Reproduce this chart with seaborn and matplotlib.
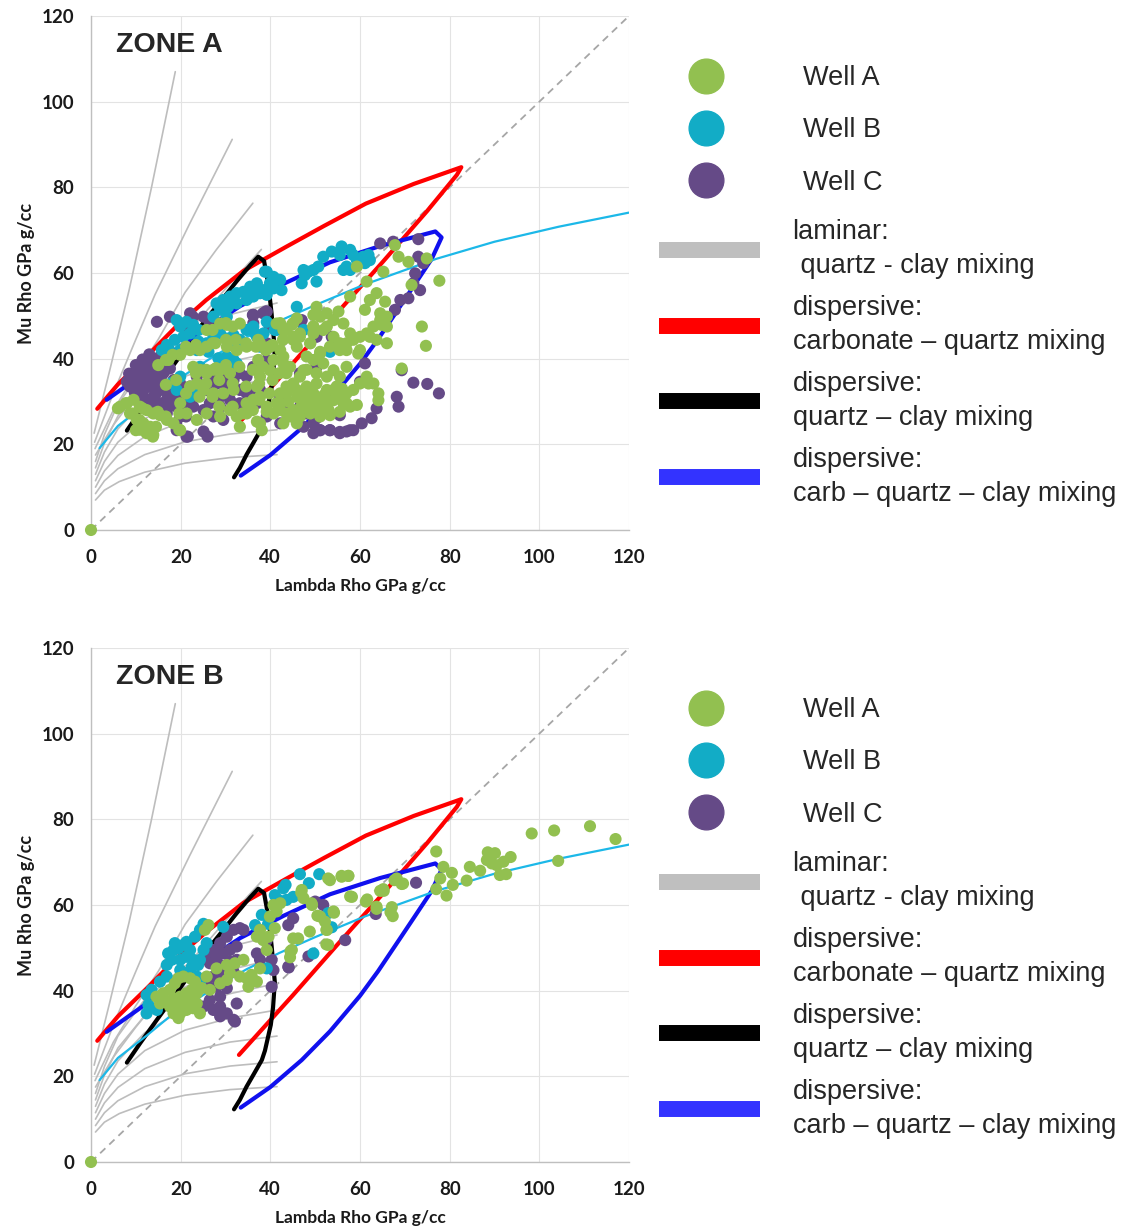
import pandas as pd
import seaborn as sns
import matplotlib.pyplot as plt
from matplotlib.lines import Line2D

# ---------------- data ----------------
ticks = [0, 20, 40, 60, 80, 100, 120]
wells = ['Well A', 'Well B', 'Well C']
well_colors = {'Well A': '#92C050', 'Well B': '#12ACC6', 'Well C': '#654A87'}

# model curves (lambda rho, mu rho) - identical on both panels
diagonal = [(0, 0), (120, 120)]
laminar_curves = [
    [(0.7, 22.6), (4, 36.5), (8.5, 56), (13.5, 80), (18.8, 107)],
    [(0.8, 20.5), (5, 32), (10, 44.5), (14.3, 55), (22, 71.5), (31.5, 91.2)],
    [(0.9, 19), (5, 28), (10, 36.5), (15, 44.5), (21, 55.5), (28, 65.5), (36.1, 76.3)],
    [(1, 17.5), (5, 24.5), (10, 31.5), (17, 40.5), (24, 49), (31, 57.5), (38, 65.5)],
    [(1, 16), (3, 22.3), (6, 29.4), (12, 38), (21, 45.8), (31, 50.3), (41.5, 53)],
    [(1, 14.5), (3, 20.3), (6, 26.6), (12, 34.2), (21, 40.9), (31, 44.9), (41.5, 47.5)],
    [(1, 13), (3, 18.2), (6, 23.6), (12, 30.2), (21, 35.9), (31, 39.3), (41.5, 41.7)],
    [(1, 11.5), (3, 16), (6, 20.5), (12, 26), (21, 30.8), (31, 33.6), (41.5, 35.5)],
    [(1, 10), (3, 13.8), (6, 17.4), (12, 21.8), (21, 25.6), (31, 28), (41.5, 29.4)],
    [(1, 8.5), (3, 11.5), (6, 14.3), (12, 17.6), (21, 20.6), (31, 22.4), (41.5, 23.4)],
    [(1, 7), (3, 9.3), (6.3, 11.3), (12, 13.5), (21, 15.6), (31, 16.9), (41.5, 17.6)],
]
carb_quartz = [(1.4, 28.3), (6, 34), (12.4, 40.5), (19, 47.5), (25.7, 53.7), (34, 60.5),
               (43.5, 66.1), (52, 71), (61.3, 76.2), (72, 80.8), (82.6, 84.7), (81.6, 82.9),
               (75, 74.5), (65, 62.5), (55, 50.8), (45, 38.9), (33, 25)]
quartz_clay = [(8, 23.2), (11, 27.8), (14.7, 33.2), (20, 40.8), (25, 48.3), (29, 53.5),
               (32.5, 58.1), (35.5, 61.8), (37.3, 63.8), (38.6, 62.8), (39.6, 57), (40.3, 50.3),
               (41, 42), (40.6, 36), (40.1, 32), (38.8, 26), (38.1, 23.8), (36.3, 20.5),
               (34.7, 17.6), (33.2, 14.5), (31.9, 12.3)]
carb_quartz_clay = [(3.5, 30.4), (12.4, 37), (22, 44.5), (33.3, 52.3), (43, 57.5), (53.3, 62.5),
                    (64.5, 66.3), (76.8, 69.7), (78.2, 68.3), (76, 63.3), (72, 57), (69, 52.3),
                    (64, 44.5), (60, 38.8), (53.3, 30.5), (47, 23.8), (40, 17.5), (33.4, 12.7)]
trend_line = [(1.9, 19.1), (6, 24.3), (12.4, 29.5), (17.6, 34), (27.3, 40.5), (34.7, 45),
              (42, 48.8), (50, 52.5), (61, 57.3), (77, 63.3), (90, 67.3), (104.3, 70.8), (120, 74.1)]

# ---- Zone A measurements ----
zone_a_well_a = [
    (0, 0),
    (6.5, 28.8), (8.0, 29.6), (9.5, 30.4), (10.9, 28.8), (12.4, 28.0), (13.9, 27.2), (8.7, 27.2),
    (10.2, 25.7), (11.7, 24.9), (13.2, 24.1), (13.9, 22.2), (12.4, 22.6), (10.9, 23.4), (15.4, 26.8),
    (16.9, 25.7), (19.9, 23.3), (18.4, 24.9), (6.0, 28.4), (7.8, 29.6), (9.3, 27.2), (10.8, 25.7),
    (10.0, 23.3), (12.3, 23.3), (13.8, 21.8), (14.5, 24.1), (11.5, 28.4), (14.9, 27.6), (16.7, 26.5),
    (19.7, 27.2), (19.7, 23.4),
    (15.0, 38.5), (17.3, 39.7), (19.9, 40.9), (22.1, 42.0), (24.3, 42.0), (25.8, 42.8), (27.7, 43.6),
    (30.3, 42.8), (32.5, 42.0), (34.7, 42.8), (37.7, 43.6), (39.9, 42.8), (22.8, 38.1), (24.3, 37.4),
    (25.8, 36.6), (27.3, 37.4), (28.8, 37.4), (31.0, 36.6), (23.6, 34.2), (25.1, 32.7), (27.3, 31.9),
    (29.5, 31.9), (31.8, 32.7), (34.7, 29.6), (36.2, 30.4), (37.7, 31.1), (39.2, 28.8), (40.7, 27.2),
    (42.2, 29.6), (43.6, 31.9), (45.1, 34.2), (46.6, 35.8), (48.1, 37.4), (49.6, 39.7), (51.1, 41.2),
    (48.9, 43.6), (46.6, 45.9), (45.1, 45.1), (43.6, 46.7), (42.2, 48.3), (45.1, 48.3), (49.6, 47.5),
    (51.1, 49.8), (52.6, 47.5), (54.1, 45.1), (55.5, 42.0), (57.0, 43.6), (58.5, 44.4), (60.0, 42.0),
    (61.5, 45.9), (63.0, 47.5), (64.5, 49.0), (66.0, 47.5), (57.0, 38.1), (55.5, 35.8), (54.1, 32.7),
    (52.6, 30.4), (51.1, 28.8), (49.6, 31.9), (48.1, 28.8), (46.6, 26.5), (45.1, 28.0), (43.6, 27.2),
    (57.0, 29.6), (58.5, 32.7), (60.0, 34.2), (61.5, 35.8), (63.0, 34.2), (19.9, 29.6), (21.3, 27.2),
    (23.6, 25.7), (25.8, 27.2), (28.8, 26.5), (31.0, 28.0), (32.5, 26.5), (34.7, 27.2), (37.7, 24.9),
    (33.2, 24.1), (22.1, 33.5), (28.8, 48.2), (30.3, 47.9), (33.2, 48.2), (25.8, 46.7), (42.2, 42.0),
    (42.9, 38.9), (43.6, 36.6), (45.9, 42.8), (50.3, 52.1), (52.6, 50.6), (54.1, 49.0),
    (16.7, 39.7), (18.2, 40.9), (21.2, 42.8), (23.4, 43.2), (27.1, 43.6), (30.1, 44.4), (32.3, 44.4),
    (34.6, 43.6), (36.8, 42.8), (39.0, 42.0), (40.5, 43.2), (42.8, 44.4), (27.1, 46.7), (30.1, 48.3),
    (31.6, 47.5), (23.4, 36.6), (25.7, 37.4), (27.9, 37.8), (30.1, 38.5), (33.1, 38.1), (36.1, 37.4),
    (38.3, 38.1), (25.7, 34.2), (28.6, 35.0), (31.6, 34.2), (34.6, 33.5), (37.5, 34.2), (40.5, 35.0),
    (42.0, 36.6), (24.2, 31.1), (27.1, 31.1), (28.6, 28.8), (31.6, 28.8), (33.8, 27.2), (36.1, 28.0),
    (37.5, 30.4), (39.8, 31.9), (42.0, 29.6), (19.0, 35.0), (21.2, 31.9), (16.7, 33.9),
    (67.8, 66.5), (68.6, 63.8), (70.8, 62.6), (74.9, 63.4), (65.2, 60.3), (61.5, 58.0), (59.3, 61.5),
    (77.7, 58.2), (71.5, 57.2), (63.7, 55.3), (62.2, 53.7), (65.6, 53.3), (61.1, 51.4), (64.5, 50.6),
    (66.0, 49.8), (64.8, 47.9), (57.8, 54.5), (55.2, 51.0), (49.6, 50.2), (45.9, 49.4), (44.8, 47.9),
    (42.9, 46.7), (46.6, 45.1), (49.6, 45.9), (51.8, 46.7), (56.3, 48.2), (57.8, 45.9), (60.0, 45.1),
    (62.2, 45.1), (63.7, 44.4), (66.0, 43.6), (55.5, 43.6), (53.3, 42.8), (51.1, 41.6), (57.0, 42.0),
    (59.6, 41.2), (73.8, 47.5), (74.7, 43.0), (69.3, 37.7), (61.9, 34.2), (64.1, 31.9), (64.1, 30.3),
    (59.3, 29.2), (57.0, 31.9), (54.8, 33.5), (52.6, 32.7), (50.3, 34.2), (48.1, 33.5), (45.9, 32.7),
    (43.6, 33.5), (42.2, 31.9), (47.4, 30.3), (49.6, 29.6), (51.8, 29.6), (54.1, 30.3), (56.3, 29.6),
    (57.8, 28.8), (46.6, 28.0), (48.9, 27.2), (51.1, 26.5), (53.3, 26.8), (55.5, 27.6), (44.4, 26.5),
    (42.9, 24.9), (45.9, 24.9), (41.4, 29.6), (39.2, 27.6), (37.0, 25.3), (38.1, 23.3), (42.2, 28.0),
    (39.9, 37.3), (37.7, 35.8), (37.0, 33.5), (44.4, 38.1), (47.4, 37.3), (50.3, 36.6), (52.6, 35.8),
    (48.1, 40.5), (51.8, 38.9), (54.1, 37.3), (49.6, 47.5), (48.9, 43.6), (45.1, 44.4), (42.9, 40.5),
    (40.7, 39.7), (37.3, 44.4), (37.3, 39.7), (39.9, 42.8), (41.4, 48.2),
    (50.0, 31.0), (52.0, 31.5), (55.0, 31.0), (53.0, 28.0), (50.5, 28.0), (47.0, 29.0), (56.0, 33.0),
    (48.0, 31.5), (44.0, 30.0), (46.0, 31.0),
]
zone_a_well_b = [
    (55.9, 66.2), (53.7, 65.0), (51.8, 63.8), (55.5, 64.2), (57.8, 65.4), (58.5, 64.2), (59.3, 63.0),
    (60.7, 63.8), (61.1, 62.3), (61.9, 64.2), (62.2, 63.0), (57.0, 61.5), (56.3, 60.7), (57.8, 60.7),
    (50.7, 61.5), (49.6, 60.7), (48.5, 60.3), (47.4, 60.7), (47.7, 59.5), (50.3, 58.0), (47.0, 57.6),
    (45.9, 52.1), (41.8, 58.4), (40.7, 59.1), (39.9, 57.6), (38.8, 60.3), (37.0, 57.6), (36.2, 56.4),
    (37.7, 55.3), (39.2, 54.9), (42.5, 56.0), (41.0, 46.7), (53.3, 41.6), (47.4, 46.7), (36.6, 45.9),
    (39.2, 48.6),
    (28.0, 52.9), (29.5, 53.7), (31.0, 54.5), (32.5, 55.3), (34.0, 55.6), (35.5, 56.8), (37.0, 56.8),
    (38.5, 56.0), (28.8, 51.4), (30.6, 52.1), (32.5, 52.9), (34.7, 53.7), (36.2, 54.5), (37.7, 55.3),
    (39.2, 60.3), (42.2, 58.4), (40.7, 56.4), (19.1, 49.0), (19.9, 47.5), (21.3, 48.6), (22.8, 47.9),
    (24.0, 46.7), (22.1, 45.9), (20.6, 45.1), (18.7, 44.4), (16.9, 43.2), (15.8, 42.0), (17.3, 42.4),
    (24.0, 44.0), (25.8, 43.6), (27.3, 45.1), (28.8, 45.9), (30.3, 44.7), (31.8, 45.5), (33.2, 44.4),
    (34.7, 46.7), (36.2, 47.5), (19.9, 42.0), (23.6, 42.0), (26.2, 41.6), (28.4, 40.1), (30.3, 40.5),
    (31.8, 39.7), (31.0, 37.4), (32.5, 38.9), (19.9, 35.8), (18.0, 34.3), (19.1, 32.7), (22.1, 31.1),
    (23.2, 32.7), (24.3, 38.1), (38.5, 45.9), (37.7, 42.8), (41.4, 46.7), (37.0, 45.1), (30.3, 49.8),
    (27.3, 49.8),
]
zone_a_well_c = [
    (9.5, 35.8), (10.9, 37.4), (12.4, 38.9), (13.9, 39.7), (15.4, 40.5), (10.2, 34.2), (12.4, 35.0),
    (13.9, 35.8), (16.1, 36.6), (17.6, 37.7), (11.7, 32.7), (13.2, 33.5), (14.7, 32.7), (16.1, 34.2),
    (18.4, 35.0), (19.9, 34.2), (12.4, 30.4), (13.9, 31.1), (15.4, 29.6), (16.9, 30.4), (18.4, 31.1),
    (14.7, 28.8), (16.9, 28.0), (19.1, 28.8), (20.6, 29.6), (22.1, 30.8), (23.6, 31.9), (25.8, 32.7),
    (28.0, 34.2), (30.3, 33.5), (31.8, 35.0), (33.2, 32.7), (34.7, 31.9), (37.0, 32.7), (28.8, 31.1),
    (31.0, 30.4), (33.2, 29.6), (26.5, 29.6), (19.9, 26.5), (21.3, 21.8), (25.1, 23.0), (27.3, 26.5),
    (29.5, 25.7), (14.7, 48.6), (17.6, 49.8), (22.1, 50.6), (25.1, 49.8), (26.5, 48.3), (36.2, 50.2),
    (38.4, 50.6), (39.9, 47.5), (39.2, 43.6), (36.2, 48.3), (42.2, 31.1), (43.7, 29.6), (46.6, 28.8),
    (48.1, 27.2), (49.6, 24.9), (51.1, 23.3), (53.3, 23.3), (55.5, 22.6), (57.0, 23.0), (58.5, 23.3),
    (45.9, 25.7), (42.2, 24.9), (49.6, 28.0), (46.6, 36.6), (50.3, 38.1), (50.3, 45.1), (54.1, 44.4),
    (46.6, 48.6), (42.9, 28.0), (39.2, 26.5), (19.1, 23.3), (16.9, 27.2), (8.7, 33.5), (8.0, 34.6),
    (22.8, 28.8), (25.1, 28.0), (28.8, 28.8), (20.6, 32.7), (22.1, 33.5), (23.6, 35.8), (26.5, 35.8),
    (30.3, 35.8), (33.2, 36.6), (34.7, 35.8), (39.2, 39.7), (36.2, 38.1),
    (9.3, 35.0), (10.8, 36.2), (12.3, 37.4), (13.8, 38.5), (11.5, 32.7), (13.0, 33.5), (14.5, 31.9),
    (16.0, 32.7), (17.5, 31.1), (13.8, 29.6), (16.0, 28.8), (18.2, 29.6), (20.4, 30.4), (22.7, 32.7),
    (21.2, 26.5), (19.0, 24.9), (21.6, 21.8), (26.0, 21.8), (22.7, 49.8), (19.7, 48.3), (21.2, 46.7),
    (36.1, 50.2), (39.0, 51.0),
    (10.0, 38.5), (11.5, 39.8), (8.5, 36.5), (9.8, 32.0), (11.0, 31.0), (12.8, 36.6), (14.8, 37.6),
    (15.2, 34.8), (17.2, 33.2), (13.0, 41.0), (16.5, 39.0),
    (64.5, 66.9), (67.4, 67.3), (73.0, 67.9), (73.0, 63.8), (74.1, 62.3), (72.3, 59.9), (71.9, 57.6),
    (73.4, 56.0), (70.8, 54.1), (69.0, 53.7), (67.8, 51.4), (36.2, 50.2), (39.2, 51.0), (47.0, 49.0),
    (53.7, 45.1), (61.1, 38.9), (69.3, 37.3), (71.9, 34.4), (75.0, 34.1), (77.6, 31.9), (68.2, 31.1),
    (68.6, 28.8), (63.7, 28.4), (62.6, 26.1), (60.4, 24.9), (57.8, 23.3), (55.5, 22.9), (53.3, 23.3),
    (51.1, 23.3), (49.6, 22.6), (55.5, 26.8), (60.0, 34.6), (50.3, 38.5), (50.3, 26.1), (47.4, 24.1),
    (45.1, 26.5), (42.9, 28.0), (37.7, 32.7), (37.0, 29.6),
]

# ---- Zone B measurements ----
zone_b_well_a = [
    (0, 0),
    (14.6, 38.6), (16.1, 39.4), (17.6, 40.2), (18.7, 41.7), (19.5, 42.9), (20.6, 43.3), (22.1, 42.9),
    (23.2, 42.1), (15.4, 37.0), (16.9, 37.4), (18.4, 38.2), (19.9, 38.6), (21.3, 39.4), (22.5, 40.2),
    (23.6, 39.4), (24.7, 40.6), (17.6, 36.3), (19.1, 36.3), (20.6, 37.0), (22.1, 37.4), (23.6, 37.0),
    (19.9, 34.7), (21.3, 35.5), (22.8, 35.9), (24.3, 34.7), (18.4, 34.7), (19.5, 33.6), (25.8, 43.3),
    (26.5, 40.2), (28.8, 41.7), (30.3, 42.5), (31.0, 44.1), (28.0, 45.2), (30.3, 46.0), (32.1, 46.4),
    (34.0, 47.2), (33.2, 43.3), (34.7, 42.9), (36.2, 42.5), (37.0, 42.1), (35.1, 40.9), (35.8, 43.7),
    (37.7, 45.2), (37.0, 52.6), (37.7, 54.2), (38.4, 51.8), (39.6, 52.6), (39.9, 57.3), (40.7, 60.0),
    (41.4, 58.5), (47.0, 63.5), (47.4, 61.6), (49.2, 60.4), (51.1, 57.3), (52.2, 56.1), (54.1, 58.5),
    (52.9, 66.2), (55.9, 66.8), (57.4, 66.8), (57.8, 62.0), (52.6, 54.2), (48.8, 53.8), (45.1, 52.2),
    (46.2, 52.2), (44.8, 49.5), (44.4, 47.8), (52.9, 50.7), (26.2, 55.3), (25.4, 54.2), (39.2, 49.5),
    (98.3, 76.7), (103.3, 77.4), (111.3, 78.4), (117.0, 75.4), (104.2, 70.3), (77.0, 72.5), (88.5, 72.3),
    (90.1, 72.1), (88.3, 70.5), (89.4, 69.7), (90.5, 69.3), (92.0, 70.1), (93.6, 71.2), (84.5, 68.9),
    (86.8, 68.0), (91.2, 67.0), (92.6, 67.2), (78.6, 68.9), (80.5, 67.5), (77.9, 66.2), (83.8, 65.7),
    (80.7, 64.7), (77.0, 63.7), (79.3, 62.2), (68.2, 66.2), (69.3, 64.9), (65.2, 63.7), (64.5, 63.3),
    (55.9, 66.6), (57.4, 66.8), (58.2, 61.9), (61.6, 61.3), (63.7, 59.6), (67.1, 59.5), (67.3, 57.4),
    (54.2, 58.2), (53.3, 65.8), (46.9, 62.9), (49.3, 60.0), (42.2, 60.4), (50.5, 57.5), (52.5, 54.2),
    (52.5, 50.8), (44.5, 49.2), (41.0, 54.6), (61.3, 60.8), (65.3, 63.3), (67.7, 65.8), (63.7, 59.1),
    (66.8, 58.3), (69.6, 65.0),
]
zone_b_well_b = [
    (46.6, 67.2), (50.9, 67.2), (48.6, 65.1), (43.4, 64.7), (42.9, 63.9), (41.0, 62.3), (41.8, 61.2),
    (45.1, 61.9), (43.6, 61.2), (38.1, 57.7), (36.6, 55.3), (29.5, 54.9), (39.5, 55.6), (52.9, 58.1),
    (49.6, 48.7), (39.2, 45.2), (53.7, 54.8),
    (25.1, 55.6), (24.3, 54.2), (23.2, 52.6), (21.3, 51.4), (20.6, 50.7), (19.5, 49.9), (18.4, 49.5),
    (17.2, 48.7), (18.0, 47.2), (16.9, 46.0), (19.9, 47.2), (21.3, 47.9), (22.8, 47.2), (23.9, 46.0),
    (19.9, 44.8), (16.9, 43.3), (15.4, 42.1), (13.5, 40.2), (12.4, 39.0), (12.8, 36.7), (12.4, 34.7),
    (14.7, 35.5), (16.1, 37.4), (21.3, 44.1), (22.5, 45.6), (24.3, 47.2), (25.1, 49.5), (25.8, 51.1),
    (22.1, 49.5), (18.7, 51.1), (24.3, 41.7), (23.6, 43.3),
]
zone_b_well_c = [
    (31.8, 54.2), (33.2, 54.6), (34.0, 54.2), (30.3, 52.6), (28.8, 51.1), (27.3, 49.5), (25.8, 48.7),
    (28.0, 47.9), (29.5, 48.7), (31.0, 49.5), (32.5, 50.3), (26.5, 46.4), (28.8, 46.0), (31.0, 46.8),
    (32.5, 47.2), (27.3, 43.3), (29.5, 43.7), (31.8, 44.4), (25.8, 41.7), (28.0, 40.9), (30.3, 40.6),
    (26.5, 37.8), (28.8, 38.6), (25.1, 36.3), (27.3, 35.5), (28.8, 36.3), (32.5, 37.0), (30.3, 34.7),
    (31.8, 33.2), (32.1, 32.8), (28.8, 34.0), (39.2, 51.8), (40.3, 47.2), (40.7, 44.8), (40.3, 40.9),
    (44.0, 55.3), (45.1, 56.9), (50.0, 60.8), (51.8, 60.0), (44.0, 45.6), (48.5, 48.0), (56.7, 51.8),
    (37.0, 48.7), (37.7, 47.2), (72.5, 65.2), (63.5, 57.9), (44.1, 45.4),
]

# ---------------- drawing ----------------
sns.set_style('white')
plt.rcParams['font.family'] = ['Lato', 'DejaVu Sans']

fig = plt.figure(figsize=(11.21, 12.30), dpi=100)
W, H = 1121, 1230

model_lines = [
    (carb_quartz, '#FF0000', 3.0),
    (quartz_clay, '#000000', 3.0),
    (carb_quartz_clay, '#1010EE', 3.0),
]

legend_lines = [
    ('#BFBFBF', 'laminar:\n quartz - clay mixing'),
    ('#FF0000', 'dispersive:\ncarbonate \u2013 quartz mixing'),
    ('#000000', 'dispersive:\nquartz \u2013 clay mixing'),
    ('#3333FF', 'dispersive:\ncarb \u2013 quartz \u2013 clay mixing'),
]


def draw_panel(top_px, title, pts_a, pts_b, pts_c):
    # axes box: x 0 at px 91, 120 at px 629; y 120 at top_px+16, 0 at top_px+530
    ax = fig.add_axes([91 / W, 1 - (top_px + 530) / H, 538 / W, 514 / H])

    ax.plot(*zip(*diagonal), color='#A6A6A6', lw=1.3, ls=(0, (4, 3)), zorder=1)
    for curve in laminar_curves:
        ax.plot(*zip(*curve), color='#BDBDBD', lw=1.2, zorder=1)
    for curve, col, lw in model_lines:
        ax.plot(*zip(*curve), color=col, lw=lw, zorder=2, solid_joinstyle='round')
    ax.plot(*zip(*trend_line), color='#1CB8E8', lw=1.6, zorder=2)

    frames = []
    for name, pts in [('Well C', pts_c), ('Well B', pts_b), ('Well A', pts_a)]:
        df = pd.DataFrame(pts, columns=['lambda_rho', 'mu_rho'])
        df['well'] = name
        frames.append(df)
    data = pd.concat(frames, ignore_index=True)
    sns.scatterplot(data=data, x='lambda_rho', y='mu_rho', hue='well', palette=well_colors,
                    s=76, linewidth=0, alpha=1, legend=False, ax=ax, zorder=3, clip_on=False)

    ax.set_xlim(0, 120)
    ax.set_ylim(0, 120)
    ax.set_xticks(ticks)
    ax.set_yticks(ticks)
    ax.grid(True, color='#E3E3E3', lw=0.8)
    ax.set_axisbelow(True)
    for side in ['top', 'right']:
        ax.spines[side].set_visible(False)
    for side in ['left', 'bottom']:
        ax.spines[side].set_color('#BFBFBF')
        ax.spines[side].set_linewidth(1.0)
    ax.tick_params(axis='both', colors='#BFBFBF', length=4, width=0.8, labelcolor='#1A1A1A',
                   labelsize=13.5)
    ax.tick_params(axis='x', pad=10)
    ax.tick_params(axis='y', pad=8)
    for lab in ax.get_xticklabels() + ax.get_yticklabels():
        lab.set_fontweight('bold')
    ax.set_xlabel('Lambda Rho GPa g/cc', fontsize=12.5, fontweight='bold', color='#1A1A1A',
                  labelpad=8)
    ax.set_ylabel('Mu Rho GPa g/cc', fontsize=13, fontweight='bold', color='#1A1A1A',
                  labelpad=5)

    ax.text(0.046, 0.944, title, transform=ax.transAxes, fontsize=20.5, fontweight='bold',
            family=['Liberation Sans', 'DejaVu Sans'], va='center', ha='left')

    # legends to the right of the axes
    prop = {'family': ['Liberation Sans', 'DejaVu Sans'], 'size': 19.5}
    well_handles = [Line2D([], [], ls='', marker='o', ms=25, mfc=well_colors[w], mec=well_colors[w])
                    for w in wells]
    fig.legend(well_handles, wells, loc='upper left',
               bbox_to_anchor=(659 / W, 1 - (top_px + 65) / H), frameon=False, prop=prop,
               handlelength=3.48, handletextpad=1.85, labelspacing=0.97, borderpad=0,
               borderaxespad=0)
    line_handles = [Line2D([], [], color=c, lw=11.5, solid_capstyle='butt') for c, _ in legend_lines]
    leg = fig.legend(line_handles, [t for _, t in legend_lines], loc='upper left',
                     bbox_to_anchor=(659 / W, 1 - (top_px + 219) / H), frameon=False, prop=prop,
                     handlelength=3.74, handletextpad=1.19, labelspacing=0.57, borderpad=0,
                     borderaxespad=0)
    for t in leg.get_texts():
        t.set_linespacing(1.42)
    return ax


draw_panel(0, 'ZONE A', zone_a_well_a, zone_a_well_b, zone_a_well_c)
draw_panel(632, 'ZONE B', zone_b_well_a, zone_b_well_b, zone_b_well_c)

fig.savefig('out.png', dpi=100)
